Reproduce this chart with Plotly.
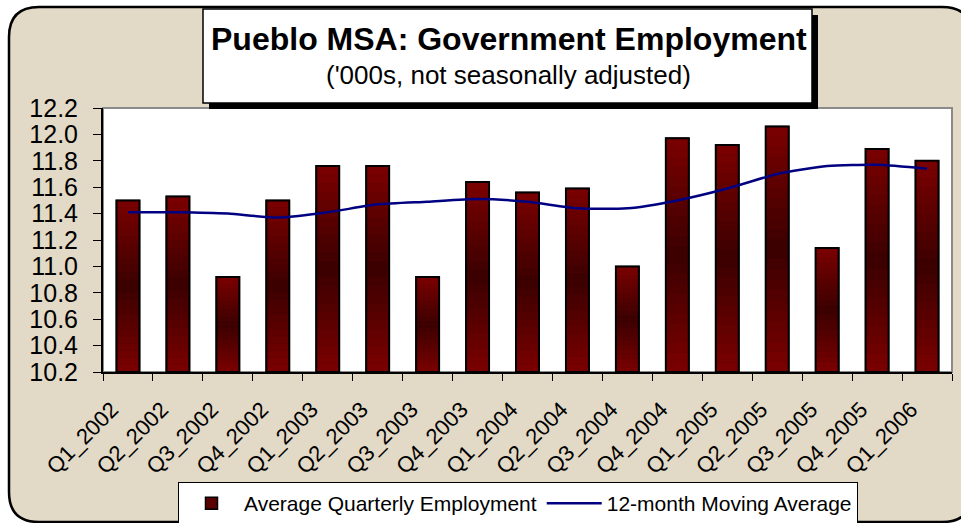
import plotly.graph_objects as go

quarters = ["Q1_2002", "Q2_2002", "Q3_2002", "Q4_2002", "Q1_2003", "Q2_2003", "Q3_2003", "Q4_2003",
            "Q1_2004", "Q2_2004", "Q3_2004", "Q4_2004", "Q1_2005", "Q2_2005", "Q3_2005", "Q4_2005", "Q1_2006"]
employment = [11.50, 11.53, 10.92, 11.50, 11.76, 11.76, 10.92, 11.64,
              11.56, 11.59, 11.00, 11.97, 11.92, 12.06, 11.14, 11.89, 11.80]
moving_avg = [11.41, 11.41, 11.40, 11.37, 11.41, 11.47, 11.49, 11.51,
              11.49, 11.44, 11.44, 11.50, 11.59, 11.70, 11.76, 11.77, 11.74]
y_ticks = [10.2, 10.4, 10.6, 10.8, 11.0, 11.2, 11.4, 11.6, 11.8, 12.0, 12.2]

W, H = 961, 523
PL, PR, PT, PB = 103, 952, 108, 372
Y0, Y1 = 10.2, 12.2
FONT = "Arial, Liberation Sans, sans-serif"


def px(x):
    return (x - PL) / (PR - PL)


def py(y):
    return (PB - y) / (PB - PT)


fig = go.Figure()

BW = 0.46
# full bar (legend entry)
fig.add_trace(go.Bar(x=quarters, y=[v - Y0 for v in employment], base=Y0, width=BW,
                     name="Average Quarterly Employment",
                     marker=dict(color="#5a0000", line=dict(color="black", width=1.5))))
# gradient segments
N = 24
red = (124, 0, 0)
dark = (58, 0, 0)
for k in range(N):
    t = abs((k + 0.5) - N / 2) / (N / 2)
    c = tuple(int(round(dark[i] + (red[i] - dark[i]) * t)) for i in range(3))
    heights = [(v - Y0) / N for v in employment]
    bases = [Y0 + (v - Y0) * k / N for v in employment]
    fig.add_trace(go.Bar(x=quarters, y=heights, base=bases, width=BW, showlegend=False,
                         hoverinfo="skip",
                         marker=dict(color="rgb(%d,%d,%d)" % c, line=dict(width=0))))
# outline
fig.add_trace(go.Bar(x=quarters, y=[v - Y0 for v in employment], base=Y0, width=BW,
                     showlegend=False, hoverinfo="skip",
                     marker=dict(color="rgba(0,0,0,0)", line=dict(color="black", width=2))))

fig.add_trace(go.Scatter(x=quarters, y=moving_avg, mode="lines", name="12-month Moving Average",
                         line=dict(color="#000080", width=2.5, shape="spline", smoothing=0.6)))

# outer rounded background
x0, y0, x1, y1, r = 9, 7, 972, 522, 30
path = (f"M {px(x0 + r)},{py(y0)} L {px(x1 - r)},{py(y0)} Q {px(x1)},{py(y0)} {px(x1)},{py(y0 + r)} "
        f"L {px(x1)},{py(y1 - r)} Q {px(x1)},{py(y1)} {px(x1 - r)},{py(y1)} "
        f"L {px(x0 + r)},{py(y1)} Q {px(x0)},{py(y1)} {px(x0)},{py(y1 - r)} "
        f"L {px(x0)},{py(y0 + r)} Q {px(x0)},{py(y0)} {px(x0 + r)},{py(y0)} Z")
shapes = [
    dict(type="path", xref="paper", yref="paper", path=path, fillcolor="#e2d9c6",
         line=dict(color="black", width=2.5), layer="below"),
    dict(type="rect", xref="paper", yref="paper", x0=0, x1=1, y0=0, y1=1, fillcolor="white",
         line=dict(color="#8a8a8a", width=2), layer="below"),
    # title box shadow + box
    dict(type="rect", xref="paper", yref="paper", x0=px(209), x1=px(818), y0=py(15), y1=py(109),
         fillcolor="black", line=dict(width=0), layer="above"),
    dict(type="rect", xref="paper", yref="paper", x0=px(203), x1=px(812), y0=py(9), y1=py(103),
         fillcolor="white", line=dict(color="black", width=1.5), layer="above"),
]

annotations = [
    dict(text="<b>Pueblo MSA: Government Employment</b>", xref="paper", yref="paper",
         x=px(509), y=py(39), xanchor="center", yanchor="middle", showarrow=False,
         font=dict(family=FONT, size=32, color="black")),
    dict(text="('000s, not seasonally adjusted)", xref="paper", yref="paper",
         x=px(508), y=py(75), xanchor="center", yanchor="middle", showarrow=False,
         font=dict(family=FONT, size=26, color="black")),
]

fig.update_layout(
    width=W, height=H,
    margin=dict(l=PL, r=W - PR, t=PT, b=H - PB, autoexpand=False),
    paper_bgcolor="white", plot_bgcolor="white",
    barmode="overlay",
    font=dict(family=FONT, color="black"),
    shapes=shapes, annotations=annotations,
    showlegend=True,
    legend=dict(orientation="h", x=px(178), y=py(482), xanchor="left", yanchor="top",
                bgcolor="white", bordercolor="black", borderwidth=1, itemwidth=55,
                font=dict(family=FONT, size=21, color="black"), traceorder="normal"),
    xaxis=dict(type="category", tickson="boundaries", ticks="outside", ticklen=7,
               tickcolor="black", showline=True, linecolor="black", linewidth=2,
               tickangle=-45, tickfont=dict(family=FONT, size=22, color="black"),
               ticklabelstandoff=14, ticklabelshift=-16, automargin=False,
               showgrid=False, range=[-0.5, len(quarters) - 0.5]),
    yaxis=dict(range=[Y0, Y1], tickvals=y_ticks, tickformat=".1f", ticks="outside", ticklen=8,
               tickcolor="black", showline=True, linecolor="black", linewidth=2,
               tickfont=dict(family=FONT, size=25, color="black"), showgrid=False,
               zeroline=False, ticklabelstandoff=10, automargin=False),
)

fig.write_html("out.html")
